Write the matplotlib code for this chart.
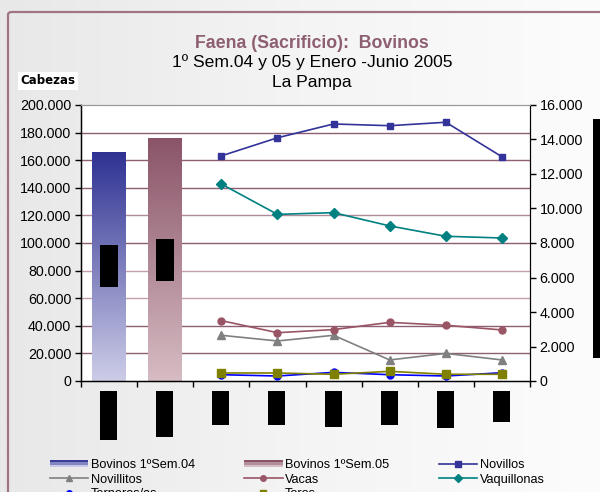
import matplotlib
matplotlib.use("Agg")
import matplotlib.pyplot as plt
import numpy as np
from matplotlib.patches import Rectangle, FancyBboxPatch, Patch
from matplotlib.legend_handler import HandlerBase
from matplotlib.ticker import FuncFormatter, MultipleLocator
import matplotlib.colors as mcolors

# ---------------- data ----------------
categories = ["1ºSem.04", "1ºSem.05", "Enero", "Febrero", "Marzo", "Abril", "Mayo", "Junio"]
bar_names = ["Bovinos 1ºSem.04", "Bovinos 1ºSem.05"]
bar_values = [166000, 176000]
month_idx = [2, 3, 4, 5, 6, 7]
novillos = [13050, 14100, 14900, 14800, 15000, 13000]
novillitos = [2650, 2320, 2650, 1220, 1600, 1220]
vacas = [3500, 2800, 2980, 3400, 3230, 2960]
vaquillonas = [11420, 9660, 9760, 8990, 8390, 8290]
terneros = [365, 290, 500, 365, 290, 480]
toros = [465, 465, 390, 560, 390, 390]

W, H = 600, 492
plt.rcParams['font.family'] = ['Liberation Sans', 'DejaVu Sans']
fig = plt.figure(figsize=(W / 100, H / 100), dpi=100)

# background gradient
bg = fig.add_axes([0, 0, 1, 1], zorder=-10)
grad = np.linspace(0, 1, 256)[None, :]
cmap_bg = mcolors.LinearSegmentedColormap.from_list("bg", ["#E8E8E8", "#F4F4F4", "#FCFCFC"])
bg.imshow(grad, aspect="auto", cmap=cmap_bg, extent=[0, 1, 0, 1])
bg.set_xlim(0, 1); bg.set_ylim(0, 1)
bg.axis("off")
frame = FancyBboxPatch((8 / W, -0.2), 1.2, (H - 12) / H + 0.2,
                       boxstyle="round,pad=0,rounding_size=0.006",
                       transform=fig.transFigure, facecolor="none",
                       edgecolor="#A07484", linewidth=1.6)
bg.add_patch(frame)

# main axes
ax = fig.add_axes([81 / W, 1 - 381 / H, (530 - 81) / W, (381 - 105) / H])
ax.set_facecolor("white")
fmt = FuncFormatter(lambda v, p: f"{v:,.0f}".replace(",", "."))
ax.yaxis.set_major_locator(MultipleLocator(20000))
ax.yaxis.set_major_formatter(fmt)

grid_cols = ["#8E5E72", "#8E5E72", "#C4A0AD", "#C4A0AD", "#8E5E72", "#B08A98", "#8E5E72", "#8E5E72", "#8E5E72"]
for i, yv in enumerate(range(20000, 200000, 20000)):
    ax.axhline(yv, color=grid_cols[i % len(grid_cols)], lw=1.0, zorder=0.5)

# gradient bars
bar_grads = [("#2E3192", "#CDCDE8"), ("#8A5468", "#D6BCC3")]
bars = ax.bar([0, 1], bar_values, width=0.6, color="none", edgecolor="none", zorder=2)
for b, (ctop, cbot) in zip(bars, bar_grads):
    cm = mcolors.LinearSegmentedColormap.from_list("g", [cbot, ctop])
    x0, y0 = b.get_x(), b.get_y()
    im = ax.imshow(np.linspace(0, 1, 256)[:, None], origin="lower", aspect="auto", cmap=cm,
                   extent=[x0, x0 + b.get_width(), y0, y0 + b.get_height()], zorder=2)
    im.set_clip_path(b)
ax.set_xlim(-0.5, len(categories) - 0.5)
ax.set_ylim(0, 200000)

ax.set_xticks(np.arange(-0.5, len(categories), 1.0))
ax.set_xticklabels([])
ax.tick_params(axis="x", direction="out", length=4, width=1, color="black")
ax.tick_params(axis="y", direction="out", length=4, width=1, labelsize=10.3, pad=3)
for s in ["left", "bottom"]:
    ax.spines[s].set_color("black")
    ax.spines[s].set_linewidth(1.0)
ax.spines["top"].set_color("#999999")
ax.spines["right"].set_color("black")

# secondary axis
ax2 = ax.twinx()
ax2.set_ylim(0, 16000)
ax2.yaxis.set_major_locator(MultipleLocator(2000))
ax2.yaxis.set_major_formatter(fmt)
ax2.tick_params(axis="y", direction="out", length=4, width=1, labelsize=10.3, pad=3)
ax2.spines["right"].set_color("black")
ax2.spines["top"].set_color("#999999")

series = [
    ("Novillos", novillos, "#333399", "s", 5),
    ("Novillitos", novillitos, "#808080", "^", 6),
    ("Vacas", vacas, "#995566", "o", 5),
    ("Vaquillonas", vaquillonas, "#008080", "D", 5),
    ("Terneros/as", terneros, "#0000FF", "o", 5),
    ("Toros", toros, "#808000", "s", 6),
]
lh = {}
for name, vals, col, mk, ms in series:
    l, = ax2.plot(month_idx, vals, color=col, marker=mk, markersize=ms, lw=1.2, label=name)
    lh[name] = l

# title
fig.text(312 / W, 1 - 43 / H, "Faena (Sacrificio):  Bovinos", ha="center", va="center",
         fontsize=12.8, fontweight="bold", color="#8E5E72")
fig.text(312 / W, 1 - 62 / H, "1º Sem.04 y 05 y Enero -Junio 2005", ha="center", va="center",
         fontsize=12.6, color="black")
fig.text(312 / W, 1 - 82 / H, "La Pampa", ha="center", va="center", fontsize=12.6, color="black")
fig.text(48 / W, 1 - 81 / H, "Cabezas", ha="center", va="center", fontsize=8.5, fontweight="bold",
         family="DejaVu Sans",
         bbox=dict(facecolor="white", edgecolor="none", pad=1.5))

# redaction-like black boxes (obscured labels in the reference)
fig.canvas.draw()
box_h = [49, 46, 34, 34, 36, 34, 37, 31]
for i, hh in enumerate(box_h):
    px = ax.transData.transform((i, 0))[0]
    fig.add_artist(Rectangle(((px - 9) / W, (H - 391 - hh) / H), 17 / W, hh / H,
                             transform=fig.transFigure, facecolor="black", edgecolor="none"))
for i, v in enumerate(bar_values):
    px, py = ax.transData.transform((i, v / 2))
    fig.add_artist(Rectangle(((px - 9) / W, (py - 21) / H), 18 / W, 42 / H,
                             transform=fig.transFigure, facecolor="black", edgecolor="none", zorder=5))
fig.add_artist(Rectangle((593 / W, (H - 358) / H), 20 / W, 239 / H,
                         transform=fig.transFigure, facecolor="black", edgecolor="none"))


# legend with striped gradient handles for the bars
class StripeHandler(HandlerBase):
    def __init__(self, colors):
        super().__init__()
        self.colors = colors

    def create_artists(self, legend, orig_handle, xdescent, ydescent, width, height, fontsize, trans):
        n = len(self.colors)
        arts = []
        for k, c in enumerate(self.colors):
            r = Rectangle((-xdescent, -ydescent + height * (n - 1 - k) / n), width, height / n,
                          facecolor=c, edgecolor="none", transform=trans)
            arts.append(r)
        return arts


p04 = Patch(facecolor="#6E70B8", edgecolor="none")
p05 = Patch(facecolor="#A8808E", edgecolor="none")
handles = [p04, lh["Novillitos"], lh["Terneros/as"], p05, lh["Vacas"], lh["Toros"],
           lh["Novillos"], lh["Vaquillonas"]]
labels = ["Bovinos 1ºSem.04", "Novillitos", "Terneros/as", "Bovinos 1ºSem.05", "Vacas", "Toros",
          "Novillos", "Vaquillonas"]
leg = fig.legend(handles, labels, ncol=3, loc="upper left", bbox_to_anchor=(45 / W, 1 - 454 / H),
                 frameon=False, fontsize=9.2, handlelength=3.0, handleheight=0.55,
                 handletextpad=0.2, columnspacing=3.85, labelspacing=0.2, borderaxespad=0,
                 markerscale=0.8,
                 handler_map={p04: StripeHandler(["#3A3D98", "#8486C4", "#C8C9E6"]),
                              p05: StripeHandler(["#8A5468", "#B08E9A", "#D6BCC3"])})

fig.savefig("out.png", dpi=100)
